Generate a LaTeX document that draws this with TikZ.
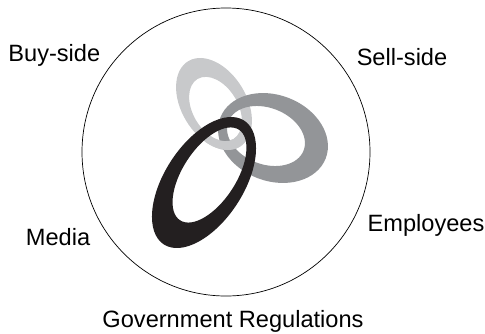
\documentclass[tikz,border=0pt]{standalone}
\usepackage{fontspec}
\setmainfont{Liberation Sans}
\definecolor{ringlight}{HTML}{C8C9CB}
\definecolor{ringmid}{HTML}{939598}
\definecolor{ringdark}{HTML}{231F20}
\tikzset{
  lbl/.style={anchor=base, inner sep=0pt, font=\fontsize{23.6}{28}\selectfont},
  border/.style={draw=black, line width=0.7pt},
}
\begin{document}
\begin{tikzpicture}[x=1pt, y=1pt]
\useasboundingbox (0,0) rectangle (485,-333);
% outer circle
\node[border, circle, minimum size=288pt, inner sep=0pt] (circ) at (226,-152) {};
% light gray ring
\begin{scope}[shift={(214,-104)}, rotate=-59]
  \fill[ringlight, even odd rule] (0,0) ellipse [x radius=50, y radius=32.5]
        (5.06,-1.29) ellipse [x radius=35, y radius=22.5];
\end{scope}
% mid gray ring
\begin{scope}[shift={(273,-138)}, rotate=-21]
  \fill[ringmid, even odd rule] (0,0) ellipse [x radius=56.5, y radius=43]
        (-7.25,-0.64) ellipse [x radius=40.3, y radius=28.2];
\end{scope}
% light gray over mid gray at the lower crossing
\begin{scope}
  \clip (205,-160) rectangle (240,-125);
  \begin{scope}[shift={(214,-104)}, rotate=-59]
    \fill[ringlight, even odd rule] (0,0) ellipse [x radius=50, y radius=32.5]
          (5.06,-1.29) ellipse [x radius=35, y radius=22.5];
  \end{scope}
\end{scope}
% black ring
\begin{scope}[shift={(204,-182.5)}, rotate=57]
  \fill[ringdark, even odd rule] (0,0) ellipse [x radius=73.8, y radius=39.4]
        (9.29,-0.52) ellipse [x radius=54, y radius=26.7];
\end{scope}
% labels
\node[lbl] (buy) at (54.3,-61.3) {Buy-side};
\node[lbl] (sell) at (402,-65) {Sell-side};
\node[lbl] (emp) at (426,-231.7) {Employees};
\node[lbl] (media) at (58,-245.7) {Media};
\node[lbl] (gov) at (233,-327.3) {Government Regulations};
\end{tikzpicture}
\end{document}
